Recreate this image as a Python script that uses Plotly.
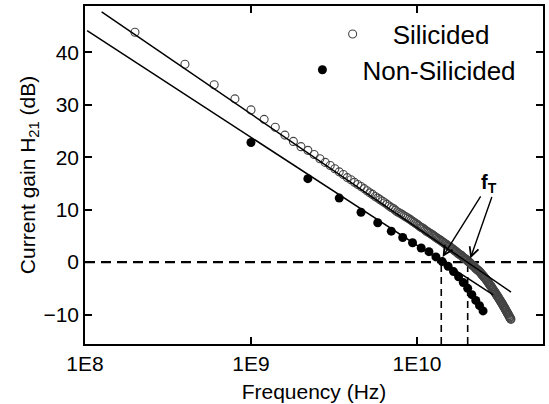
import math
import plotly.graph_objects as go

# ---------------- data ----------------
# Silicided device: frequency sweep (GHz) and current gain |H21| (dB)
sil_freq_ghz = [
    0.2, 0.4, 0.6, 0.8, 1.0, 1.2, 1.4, 1.6, 1.8, 2.0,
    2.2, 2.4, 2.6, 2.8, 3.0, 3.2, 3.4, 3.6, 3.8, 4.0,
    4.2, 4.4, 4.6, 4.8, 5.0, 5.2, 5.4, 5.6, 5.8, 6.0,
    6.2, 6.4, 6.6, 6.8, 7.0, 7.2, 7.4, 7.6, 7.8, 8.0,
    8.2, 8.4, 8.6, 8.8, 9.0, 9.2, 9.4, 9.6, 9.8, 10.0,
    10.2, 10.4, 10.6, 10.8, 11.0, 11.2, 11.4, 11.6, 11.8, 12.0,
    12.2, 12.4, 12.6, 12.8, 13.0, 13.2, 13.4, 13.6, 13.8, 14.0,
    14.2, 14.4, 14.6, 14.8, 15.0, 15.2, 15.4, 15.6, 15.8, 16.0,
    16.2, 16.4, 16.6, 16.8, 17.0, 17.2, 17.4, 17.6, 17.8, 18.0,
    18.2, 18.4, 18.6, 18.8, 19.0, 19.2, 19.4, 19.6, 19.8, 20.0,
    20.2, 20.4, 20.6, 20.8, 21.0, 21.2, 21.4, 21.6, 21.8, 22.0,
    22.2, 22.4, 22.6, 22.8, 23.0, 23.2, 23.4, 23.6, 23.8, 24.0,
    24.2, 24.4, 24.6, 24.8, 25.0, 25.2, 25.4, 25.6, 25.8, 26.0,
    26.2, 26.4, 26.6, 26.8, 27.0, 27.2, 27.4, 27.6, 27.8, 28.0,
    28.2, 28.4, 28.6, 28.8, 29.0, 29.2, 29.4, 29.6, 29.8, 30.0,
    30.2, 30.4, 30.6, 30.8, 31.0, 31.2, 31.4, 31.6, 31.8, 32.0,
    32.2, 32.4, 32.6, 32.8, 33.0, 33.2, 33.4, 33.6, 33.8, 34.0,
    34.2, 34.4, 34.6, 34.8, 35.0, 35.2, 35.4, 35.6, 35.8, 36.0,
    36.2, 36.4, 36.6, 36.8,
]
sil_gain_db = [
    43.8, 37.7, 33.8, 31.1, 29.0, 27.2, 25.7, 24.2, 23.0, 22.0,
    21.3, 20.5, 19.7, 19.0, 18.4, 17.8, 17.2, 16.7, 16.1, 15.7,
    15.2, 14.8, 14.4, 14.0, 13.6, 13.2, 12.9, 12.5, 12.2, 11.9,
    11.6, 11.3, 11.0, 10.7, 10.4, 10.2, 9.9, 9.6, 9.4, 9.2,
    9.0, 8.8, 8.6, 8.4, 8.2, 8.0, 7.8, 7.6, 7.4, 7.2,
    7.0, 6.8, 6.6, 6.5, 6.3, 6.1, 5.9, 5.8, 5.6, 5.5,
    5.3, 5.2, 5.0, 4.9, 4.7, 4.6, 4.4, 4.3, 4.2, 4.0,
    3.9, 3.8, 3.6, 3.5, 3.4, 3.2, 3.1, 3.0, 2.9, 2.8,
    2.6, 2.5, 2.4, 2.2, 2.1, 2.0, 1.9, 1.7, 1.6, 1.5,
    1.4, 1.3, 1.2, 1.0, 0.9, 0.8, 0.7, 0.6, 0.5, 0.4,
    0.2, 0.1, 0.0, -0.1, -0.2, -0.4, -0.5, -0.6, -0.7, -0.8,
    -0.9, -1.1, -1.2, -1.3, -1.4, -1.5, -1.6, -1.7, -1.8, -1.9,
    -2.1, -2.2, -2.3, -2.5, -2.6, -2.7, -2.9, -3.0, -3.1, -3.2,
    -3.4, -3.5, -3.7, -3.8, -4.0, -4.1, -4.3, -4.4, -4.5, -4.7,
    -4.8, -5.0, -5.1, -5.3, -5.4, -5.6, -5.7, -5.8, -6.0, -6.1,
    -6.3, -6.4, -6.5, -6.7, -6.8, -7.0, -7.1, -7.2, -7.4, -7.5,
    -7.7, -7.8, -7.9, -8.1, -8.2, -8.4, -8.5, -8.7, -8.8, -8.9,
    -9.1, -9.2, -9.4, -9.5, -9.7, -9.8, -9.9, -10.1, -10.2, -10.4,
    -10.5, -10.6, -10.8, -10.9,
]

# Non-silicided device
non_freq_ghz = [1.0, 2.2, 3.4, 4.6, 5.8, 7.0, 8.2, 9.4, 10.6, 11.8, 13.0,
                14.2, 15.4, 16.6, 17.8, 19.0, 20.2, 21.4, 22.6, 23.8, 25.0]
non_gain_db = [22.8, 15.9, 12.2, 9.5, 7.5, 5.9, 4.7, 3.7, 2.7, 2.0, 1.0,
               0.1, -0.8, -1.8, -2.8, -3.9, -5.0, -6.2, -7.3, -8.3, -9.3]

# -20 dB/decade fit lines (end points)
sil_fit_freq_hz = [1.26e8, 3.68e10]
sil_fit_gain_db = [47.7, -5.7]
non_fit_freq_hz = [1.03e8, 2.88e10]
non_fit_gain_db = [44.1, -6.25]

# Cut-off frequencies fT (Hz): non-silicided, silicided
ft_hz = [1.40e10, 2.02e10]

x_tick_vals = [1e8, 1e9, 1e10]
x_tick_text = ["1E8", "1E9", "1E10"]
y_tick_vals = [-10, 0, 10, 20, 30, 40]

X_RANGE = [8.0, 10.759]   # log10 Hz
Y_RANGE = [-15.6, 48.8]

FONT = "Liberation Sans, Arial, sans-serif"

sil_freq_hz = [f * 1e9 for f in sil_freq_ghz]
non_freq_hz = [f * 1e9 for f in non_freq_ghz]

fig = go.Figure()

# dashed reference lines
fig.add_trace(go.Scatter(
    x=[10 ** X_RANGE[0], 10 ** X_RANGE[1]], y=[0, 0], mode="lines",
    line=dict(color="black", width=2.2, dash="10px,6px"),
    showlegend=False, hoverinfo="skip"))
for ft in ft_hz:
    fig.add_trace(go.Scatter(
        x=[ft, ft], y=[Y_RANGE[0], 0], mode="lines",
        line=dict(color="black", width=1.6, dash="7px,5px"),
        showlegend=False, hoverinfo="skip"))

# data
fig.add_trace(go.Scatter(
    x=sil_freq_hz, y=sil_gain_db, mode="markers", name="Silicided",
    marker=dict(symbol="circle-open", size=8, color="#444444",
                line=dict(width=1.1)),
    legend="legend"))
fig.add_trace(go.Scatter(
    x=non_freq_hz, y=non_gain_db, mode="markers", name="Non-Silicided",
    marker=dict(symbol="circle", size=9, color="black"),
    legend="legend2"))

# fit lines
fig.add_trace(go.Scatter(
    x=sil_fit_freq_hz, y=sil_fit_gain_db, mode="lines",
    line=dict(color="black", width=1.5), showlegend=False, hoverinfo="skip"))
fig.add_trace(go.Scatter(
    x=non_fit_freq_hz, y=non_fit_gain_db, mode="lines",
    line=dict(color="black", width=1.5), showlegend=False, hoverinfo="skip"))

annotations = [
    dict(x=math.log10(ft_hz[0]) + 0.008, y=1.0, xref="x", yref="y",
         text="", showarrow=True, arrowhead=5, arrowsize=1.3,
         arrowwidth=1.4, arrowcolor="black",
         axref="pixel", ayref="pixel", ax=39, ay=-62),
    dict(x=math.log10(ft_hz[1]) + 0.016, y=0.7, xref="x", yref="y",
         text="", showarrow=True, arrowhead=5, arrowsize=1.3,
         arrowwidth=1.4, arrowcolor="black",
         axref="pixel", ayref="pixel", ax=22, ay=-63),
    dict(x=10.434, y=14.9, xref="x", yref="y",
         text="<b>f<sub>T</sub></b>", showarrow=False,
         font=dict(family=FONT, size=20, color="black")),
]

axis_common = dict(
    showline=True, linecolor="black", linewidth=1.5, mirror="allticks",
    ticks="inside", ticklen=7, tickwidth=1.5, tickcolor="black",
    showgrid=False, zeroline=False, automargin=False,
    tickfont=dict(family=FONT, size=21, color="black"),
)

fig.update_layout(
    width=549, height=404,
    margin=dict(l=85, r=6, t=6, b=60),
    paper_bgcolor="white", plot_bgcolor="white",
    font=dict(family=FONT, color="black"),
    xaxis=dict(
        type="log", range=X_RANGE,
        tickmode="array", tickvals=x_tick_vals, ticktext=x_tick_text,
        title=dict(text="Frequency (Hz)", font=dict(family=FONT, size=21),
                   standoff=10),
        **axis_common),
    yaxis=dict(
        range=Y_RANGE, tickmode="array", tickvals=y_tick_vals,
        title=dict(text="Current gain H<sub>21</sub> (dB)",
                   font=dict(family=FONT, size=21), standoff=2),
        **axis_common),
    legend=dict(x=0.497, y=0.917, xanchor="left", yanchor="middle",
                bgcolor="rgba(0,0,0,0)", itemwidth=70,
                font=dict(family=FONT, size=26, color="black")),
    legend2=dict(x=0.431, y=0.811, xanchor="left", yanchor="middle",
                 bgcolor="rgba(0,0,0,0)", itemwidth=70,
                 font=dict(family=FONT, size=26, color="black")),
    annotations=annotations,
    showlegend=True,
)

fig.write_html(
    "out.html",
    config={"displayModeBar": False},
    post_script="document.body.style.margin='0';document.body.style.overflow='hidden';",
)
